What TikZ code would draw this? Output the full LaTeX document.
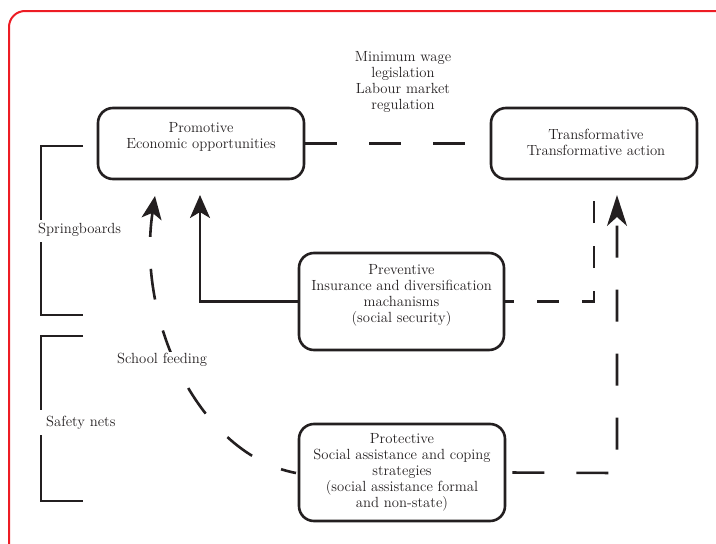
\documentclass[tikz,border=0pt]{standalone}
\usetikzlibrary{arrows.meta}
\definecolor{framered}{RGB}{237,28,36}
\definecolor{ink}{RGB}{35,31,32}
\begin{document}
\begin{tikzpicture}[x=1pt,y=-1pt,
  box/.style={draw=ink,line width=2.6pt,rounded corners=15pt,inner sep=0pt},
  txt/.style={align=center,font=\fontsize{14.7}{16}\selectfont,text=ink,inner sep=1pt},
  lbl/.style={font=\fontsize{14.7}{16}\selectfont,text=ink,inner sep=1pt},
  conn/.style={draw=ink,line width=2.6pt},
  longdash/.style={dash pattern=on 32pt off 32pt},
  tiphead/.style={-{Stealth[length=23pt,width=20pt,inset=6pt]}},
  longhead/.style={-{Stealth[length=31pt,width=20pt,inset=9pt]}}
]
\useasboundingbox (0,0) rectangle (716,544);
\draw[framered,line width=2pt,rounded corners=16pt] (9,11) rectangle (730,560);

% boxes
\node[box,minimum width=206pt,minimum height=71pt] (pro) at (201,143.5) {};
\node[txt] (protxt) at (201,137) {Promotive\\Economic opportunities};
\node[box,minimum width=206pt,minimum height=71pt] (tra) at (594,143.5) {};
\node[txt] (tratxt) at (596,142) {Transformative\\Transformative action};
\node[box,minimum width=205pt,minimum height=97pt] (pre) at (401.5,301.5) {};
\node[txt] (pretxt) at (401.5,295.5) {Preventive\\Insurance and diversification\\machanisms\\(social security)};
\node[box,minimum width=206pt,minimum height=97pt] (ptc) at (402,472.5) {};
\node[txt] (ptctxt) at (402,472) {Protective\\Social assistance and coping\\strategies\\(social assistance formal\\and non-state)};

\node[txt] (minw) at (403,82) {Minimum wage\\legislation\\Labour market\\regulation};

% labels
\node[lbl,anchor=west] (spr) at (37,230) {Springboards};
\node[lbl,anchor=west] (saf) at (45,423) {Safety nets};

% brackets
\draw[conn] (83,146) -- (41,146) -- (41,220);
\draw[conn] (41,242) -- (41,315) -- (83,315);
\draw[conn] (83,336) -- (41,336) -- (41,410);
\draw[conn] (41,435) -- (41,501) -- (83,501);

% connectors
\draw[conn,longdash] (pro.east) -- (tra.west);

\coordinate (solidtip) at (200,195);
\draw[conn,tiphead] (pre.west) -- (200,301.5) -- (solidtip);

\coordinate (pretop) at (594,196);
\draw[conn,dash pattern=on 22pt off 23pt,dash phase=13pt] (pre.east) -- (594,301.5) -- (pretop);

\coordinate (ptctip) at (617,195);
\draw[conn,longdash,dash phase=58pt,longhead] (ptc.east) -- (617,473) -- (ptctip);

\coordinate (curvetip) at (155,196);
\draw[conn,dash pattern=on 31pt off 32pt,dash phase=6pt,{Stealth[length=23pt,width=20pt,inset=6pt]}-]
  (curvetip) .. controls (136,322) and (200,455) .. (296,473);

\node[lbl,fill=white,anchor=west] (school) at (116,360) {School feeding};
\end{tikzpicture}
\end{document}
